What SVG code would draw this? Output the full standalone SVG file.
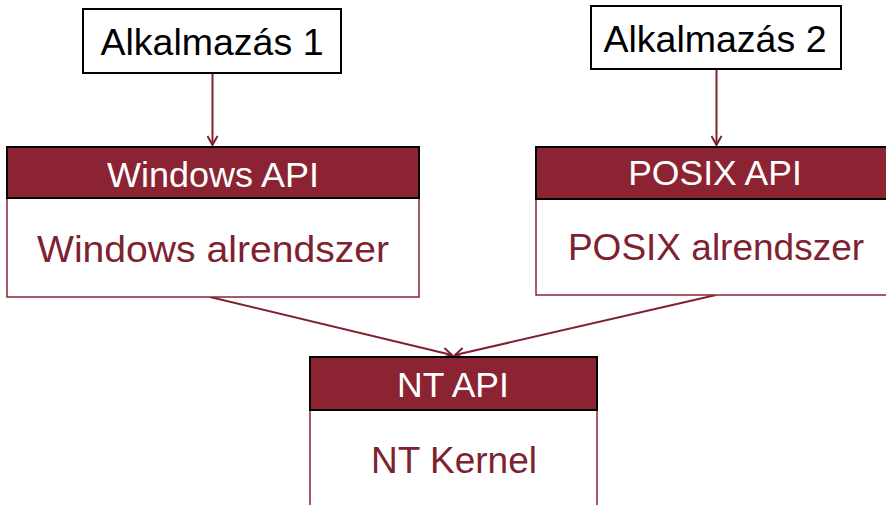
<svg xmlns="http://www.w3.org/2000/svg" width="886" height="505" viewBox="0 0 886 505">
<style>
.app{fill:#fff;stroke:#000;stroke-width:2}
.hdr{fill:#8B2332;stroke:#000;stroke-width:2}
.body{fill:#fff;stroke:#8B2332;stroke-width:1.5}
.t{font-family:"Liberation Sans",Arial,sans-serif;text-anchor:middle}
.tb{fill:#000;font-size:37.5px}
.tw{fill:#fff;font-size:35.5px}
.tr{fill:#7E2230;font-size:37px}
.c{fill:none;stroke:#7E2230;stroke-width:2;marker-end:url(#ah)}
</style>
<defs>
<marker id="ah" markerWidth="12" markerHeight="12" refX="10" refY="6" orient="auto" markerUnits="userSpaceOnUse">
<path d="M1,1 L10,6 L1,11" fill="none" stroke="#7E2230" stroke-width="2"/>
</marker>
</defs>
<rect width="886" height="505" fill="#fff"/>
<g id="connectors">
<line class="c" x1="212.5" y1="73" x2="212.5" y2="145"/>
<line class="c" x1="716.5" y1="69" x2="716.5" y2="145"/>
<line class="c" x1="210" y1="297" x2="452" y2="355"/>
<line class="c" x1="716" y1="295" x2="455" y2="355"/>
</g>
<g id="app1">
<rect class="app" x="83" y="9" width="258" height="64"/>
<text class="t tb" x="212" y="55">Alkalmazás 1</text>
</g>
<g id="app2">
<rect class="app" x="591" y="6" width="250" height="63"/>
<text class="t tb" x="715" y="52">Alkalmazás 2</text>
</g>
<g id="windows">
<rect class="body" x="7" y="198" width="412" height="99"/>
<rect class="hdr" x="7" y="147" width="412" height="51"/>
<text class="t tw" x="213" y="187" textLength="212" lengthAdjust="spacingAndGlyphs">Windows API</text>
<text class="t tr" x="213" y="262" textLength="352" lengthAdjust="spacingAndGlyphs">Windows alrendszer</text>
</g>
<g id="posix">
<rect class="body" x="536" y="199" width="370" height="96"/>
<rect class="hdr" x="536" y="147" width="370" height="52"/>
<text class="t tw" x="715" y="185">POSIX API</text>
<text class="t tr" x="716" y="260">POSIX alrendszer</text>
</g>
<g id="nt">
<rect class="body" x="310" y="410" width="287" height="110"/>
<rect class="hdr" x="310" y="357" width="287" height="53"/>
<text class="t tw" x="453" y="397">NT API</text>
<text class="t tr" x="454" y="473">NT Kernel</text>
</g>
</svg>
